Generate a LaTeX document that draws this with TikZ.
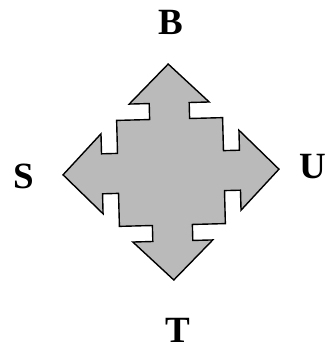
\documentclass[tikz,border=0pt]{standalone}
\usepackage{fontspec}
\setmainfont{Liberation Serif}
\definecolor{shapegray}{RGB}{186,186,186}
\begin{document}
\begin{tikzpicture}[x=1pt,y=-1pt,
  lbl/.style={font=\fontsize{37}{37}\selectfont\bfseries, inner sep=0pt, anchor=center},
  crossarrow/.style={draw=black, line width=1.4pt, line join=miter, fill=shapegray}]
\useasboundingbox (0,0) rectangle (327,350);
\begin{scope}[shift={(171,172)}, rotate=1.5]
\path[crossarrow] (0,-108) -- (40,-69) -- (20,-69) -- (20,-53) -- (53,-53) -- (53,-20) -- (69,-20) -- (69,-40)
 -- (108,0) -- (69,40) -- (69,20) -- (53,20) -- (53,53) -- (20,53) -- (20,69) -- (40,69)
 -- (0,108) -- (-40,69) -- (-20,69) -- (-20,53) -- (-53,53) -- (-53,20) -- (-69,20) -- (-69,40)
 -- (-108,0) -- (-69,-40) -- (-69,-20) -- (-53,-20) -- (-53,-53) -- (-20,-53) -- (-20,-69) -- (-40,-69) -- cycle;
\end{scope}
\node[lbl] (B) at (171,22) {B};
\node[lbl] (S) at (24,176) {S};
\node[lbl] (U) at (313,167) {U};
\node[lbl] (T) at (178,330) {T};
\end{tikzpicture}
\end{document}
